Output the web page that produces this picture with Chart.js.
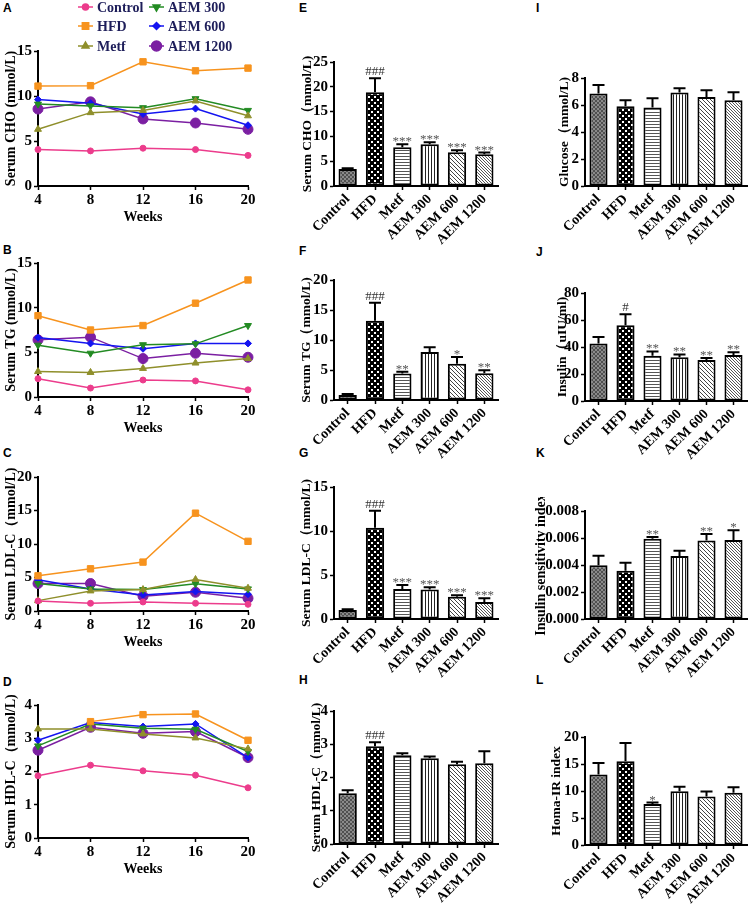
<!DOCTYPE html>
<html>
<head>
<meta charset="utf-8">
<script src="https://cdn.jsdelivr.net/npm/chart.js@4.4.1/dist/chart.umd.min.js"></script>
<style>
  body { margin: 0; background: #fff; width: 750px; height: 906px; position: relative; overflow: hidden; }
  canvas { position: absolute; }
  .lbl { position: absolute; font: bold 12px "Liberation Sans", Arial, sans-serif; line-height: 12px; color: #000; }
</style>
</head>
<body>
<div class="lbl" style="left:3px;top:2px">A</div>
<div class="lbl" style="left:3px;top:244px">B</div>
<div class="lbl" style="left:3px;top:447px">C</div>
<div class="lbl" style="left:3px;top:676px">D</div>
<div class="lbl" style="left:299px;top:2px">E</div>
<div class="lbl" style="left:299px;top:245px">F</div>
<div class="lbl" style="left:299px;top:447px">G</div>
<div class="lbl" style="left:299px;top:674px">H</div>
<div class="lbl" style="left:536px;top:2px">I</div>
<div class="lbl" style="left:536px;top:246px">J</div>
<div class="lbl" style="left:536px;top:447px">K</div>
<div class="lbl" style="left:536px;top:674px">L</div>
<script>
// ---- data ----
const groups = ['Control', 'HFD', 'Metf', 'AEM 300', 'AEM 600', 'AEM 1200'];
const weeks = [4, 8, 12, 16, 20];

// weekly time courses, one row per group (same order as groups)
const choWeekly = [
  [4.05, 3.9, 4.2, 4.05, 3.4],
  [11.1, 11.15, 13.8, 12.8, 13.1],
  [6.3, 8.15, 8.4, 9.45, 7.8],
  [9.1, 8.9, 8.7, 9.7, 8.4],
  [9.6, 9.2, 8.0, 8.6, 6.75],
  [8.55, 9.35, 7.45, 7.0, 6.3]
];
const tgWeekly = [
  [2.05, 1.0, 1.9, 1.8, 0.8],
  [9.1, 7.5, 8.0, 10.5, 13.1],
  [2.85, 2.75, 3.2, 3.8, 4.3],
  [5.8, 4.9, 5.85, 5.95, 8.0],
  [6.65, 6.0, 5.4, 6.0, 6.0],
  [6.4, 6.7, 4.3, 4.9, 4.45]
];
const ldlWeekly = [
  [1.5, 1.15, 1.35, 1.15, 1.0],
  [5.25, 6.3, 7.3, 14.6, 10.4],
  [1.55, 3.0, 3.2, 4.7, 3.4],
  [4.1, 3.3, 3.2, 4.05, 3.3],
  [4.65, 3.3, 2.4, 2.9, 2.5],
  [4.1, 4.1, 2.2, 2.8, 1.9]
];
const hdlWeekly = [
  [1.87, 2.19, 2.02, 1.89, 1.51],
  [null, 3.5, 3.71, 3.73, 2.94],
  [3.28, 3.28, 3.13, 3.01, 2.68],
  [2.77, 3.43, 3.3, 3.27, 2.6],
  [2.94, 3.47, 3.35, 3.43, 2.42],
  [2.64, 3.33, 3.15, 3.2, 2.42]
];

// week-20 means, SEM and significance marks
const choMean = [3.45, 18.9, 7.8, 8.4, 6.8, 6.4];
const choSem = [0.15, 2.8, 0.6, 0.4, 0.4, 0.35];
const choSig = ['', '###', '***', '***', '***', '***'];

const tgMean = [0.83, 13.2, 4.4, 8.0, 6.05, 4.45];
const tgSem = [0.17, 3.0, 0.3, 0.8, 1.1, 0.5];
const tgSig = ['', '###', '**', '', '*', '**'];

const ldlMean = [1.02, 10.37, 3.4, 3.35, 2.52, 1.92];
const ldlSem = [0.08, 1.93, 0.45, 0.27, 0.18, 0.45];
const ldlSig = ['', '###', '***', '***', '***', '***'];

const hdlMean = [1.53, 2.94, 2.67, 2.58, 2.4, 2.43];
const hdlSem = [0.09, 0.12, 0.06, 0.05, 0.07, 0.36];
const hdlSig = ['', '###', '', '', '', ''];

const gluMean = [6.85, 5.91, 5.81, 6.92, 6.6, 6.35];
const gluSem = [0.64, 0.44, 0.69, 0.32, 0.49, 0.6];
const gluSig = ['', '', '', '', '', ''];

const insMean = [42.6, 56.1, 33.5, 32.5, 30.3, 34.0];
const insSem = [4.9, 8.1, 3.2, 2.0, 1.5, 2.2];
const insSig = ['', '#', '**', '**', '**', '**'];

const isiMean = [0.00399, 0.00357, 0.00594, 0.00466, 0.00581, 0.00586];
const isiSem = [0.00069, 0.00059, 0.00014, 0.00039, 0.00049, 0.00072];
const isiSig = ['', '', '**', '', '**', '*'];

const homaMean = [13.07, 15.5, 7.6, 9.97, 8.98, 9.66];
const homaSem = [2.13, 3.4, 0.25, 0.83, 0.92, 1.04];
const homaSig = ['', '', '*', '', '', ''];

// ---- styles ----
const serif = '"Liberation Serif", "Times New Roman", serif';
const lineStyles = [
  { color: '#ec3c8c', pointStyle: 'circle', r: 3 },
  { color: '#f7931e', pointStyle: 'rect', r: 4.5 },
  { color: '#8f8f2b', pointStyle: 'triangle', r: 4 },
  { color: '#238b23', pointStyle: 'triangle', r: 4, rot: 180 },
  { color: '#1414f0', pointStyle: 'rectRot', r: 3.5 },
  { color: '#7b1fa2', pointStyle: 'circle', r: 5 }
];

function makeCanvas(left, top, w, h) {
  const c = document.createElement('canvas');
  c.width = w; c.height = h;
  c.style.left = left + 'px'; c.style.top = top + 'px';
  c.style.width = w + 'px'; c.style.height = h + 'px';
  document.body.appendChild(c);
  return c;
}

function makePattern(w, h, draw) {
  const c = document.createElement('canvas');
  c.width = w; c.height = h;
  const g = c.getContext('2d');
  draw(g);
  return g.createPattern(c, 'repeat');
}

// bar fills, one per group
const barFills = [
  makePattern(4, 4, g => { g.fillStyle = '#8a8a8a'; g.fillRect(0, 0, 4, 4); g.fillStyle = '#505050'; g.fillRect(0, 0, 2, 2); g.fillRect(2, 2, 2, 2); }),
  makePattern(6, 6, g => { g.fillStyle = '#000'; g.fillRect(0, 0, 6, 6); g.fillStyle = '#fff'; g.fillRect(0, 0, 2, 2); g.fillRect(3, 3, 2, 2); }),
  makePattern(3, 3, g => { g.fillStyle = '#fff'; g.fillRect(0, 0, 3, 3); g.fillStyle = '#555'; g.fillRect(0, 0, 3, 1); }),
  makePattern(3, 3, g => { g.fillStyle = '#fff'; g.fillRect(0, 0, 3, 3); g.fillStyle = '#222'; g.fillRect(0, 0, 1, 3); }),
  makePattern(4, 4, g => { g.fillStyle = '#fff'; g.fillRect(0, 0, 4, 4); g.fillStyle = '#444'; for (let i = 0; i < 4; i++) g.fillRect(i, i, 1, 1); }),
  makePattern(3, 3, g => { g.fillStyle = '#fff'; g.fillRect(0, 0, 3, 3); g.fillStyle = '#555'; for (let i = 0; i < 3; i++) g.fillRect(i, i, 1, 1); })
];

function yAxis(title, max, step, yW, titlePad, tickSize, titleSize, fmt) {
  return {
    min: 0, max: max,
    border: { display: true, color: '#000', width: 2 },
    grid: { drawOnChartArea: false, tickLength: 4, tickColor: '#000', tickWidth: 1.5 },
    ticks: { stepSize: step, color: '#000', padding: 2, font: { family: serif, weight: 'bold', size: tickSize }, callback: fmt || (v => v) },
    title: { display: true, text: title, color: '#000', font: { family: serif, weight: 'bold', size: titleSize }, padding: { top: titlePad, bottom: 0 } },
    afterFit: s => { s.width = yW; }
  };
}

// legend drawn into panel A's canvas
const legendPlugin = {
  id: 'legendA',
  afterDraw(chart) {
    const ctx = chart.ctx;
    chart.data.datasets.forEach((ds, i) => {
      const lx = i < 3 ? 78 : 149;
      const ty = [7, 26, 46][i % 3];
      ctx.save();
      ctx.strokeStyle = ds.borderColor; ctx.fillStyle = ds.borderColor; ctx.lineWidth = 1.5;
      ctx.beginPath(); ctx.moveTo(lx, ty); ctx.lineTo(lx + 15, ty); ctx.stroke();
      Chart.helpers.drawPoint(ctx, { pointStyle: ds.pointStyle, radius: ds.pointRadius, rotation: ds.pointRotation || 0, borderWidth: 1 }, lx + 7.5, ty);
      ctx.fillStyle = '#1e1e5a';
      ctx.font = 'bold 14px ' + serif;
      ctx.textBaseline = 'middle';
      ctx.fillText(ds.label, lx + 19, ty + 1);
      ctx.restore();
    });
  }
};

function lineChart(yTop, yBot, padTop, title, rows, yMax, yStep, extra) {
  const x0 = 38, x1 = 248, yW = 38, padRight = 12, xH = 42;
  const c = makeCanvas(0, yTop - padTop, x1 - x0 + yW + padRight, yBot - yTop + padTop + xH);
  const datasets = rows.map((vals, g) => ({
    label: groups[g],
    data: weeks.map((w, k) => ({ x: w, y: vals[k] })),
    borderColor: lineStyles[g].color,
    backgroundColor: lineStyles[g].color,
    borderWidth: 1.5,
    pointStyle: lineStyles[g].pointStyle,
    pointRadius: lineStyles[g].r,
    pointRotation: lineStyles[g].rot || 0,
    pointBorderWidth: 1,
    clip: false
  }));
  new Chart(c, {
    type: 'line',
    data: { datasets },
    options: {
      responsive: false, animation: false,
      layout: { padding: { top: padTop, right: padRight, left: 0, bottom: 0 } },
      plugins: { legend: { display: false }, tooltip: { enabled: false } },
      scales: {
        x: {
          type: 'linear', min: 4, max: 20,
          border: { display: true, color: '#000', width: 2 },
          grid: { drawOnChartArea: false, tickLength: 4, tickColor: '#000', tickWidth: 1.5 },
          ticks: { stepSize: 4, color: '#000', padding: 1, maxRotation: 0, font: { family: serif, weight: 'bold', size: 15 } },
          title: { display: true, text: 'Weeks', color: '#000', font: { family: serif, weight: 'bold', size: 14 }, padding: { top: 0, bottom: 2 } },
          afterFit: s => { s.height = xH; }
        },
        y: yAxis(title, yMax, yStep, yW, 3, 15, 14)
      }
    },
    plugins: extra ? [extra] : []
  });
}

const errPlugin = {
  id: 'errMarks',
  afterDatasetsDraw(chart) {
    const ctx = chart.ctx, y = chart.scales.y;
    const ds = chart.data.datasets[0];
    chart.getDatasetMeta(0).data.forEach((bar, i) => {
      const top = y.getPixelForValue(ds.data[i] + ds.sems[i]);
      ctx.save();
      ctx.strokeStyle = '#000'; ctx.lineWidth = 2;
      ctx.beginPath();
      ctx.moveTo(bar.x, bar.y); ctx.lineTo(bar.x, top);
      ctx.moveTo(bar.x - 6, top); ctx.lineTo(bar.x + 6, top);
      ctx.stroke();
      const m = ds.marks[i];
      if (m) {
        const hash = m[0] === '#';
        ctx.fillStyle = hash ? '#333' : '#555';
        ctx.font = '13px ' + serif;
        ctx.textAlign = 'center';
        ctx.textBaseline = 'alphabetic';
        ctx.fillText(m, bar.x, hash ? top - 3 : top + 1);
      }
      ctx.restore();
    });
  }
};

function barChart(x0, x1, yTop, yBot, yW, titlePad, title, titleSize, means, sems, marks, yMax, yStep, fmt) {
  const padTop = 14, padRight = 4, xH = 64;
  const c = makeCanvas(x0 - yW, yTop - padTop, x1 - x0 + yW + padRight, yBot - yTop + padTop + xH);
  new Chart(c, {
    type: 'bar',
    data: {
      labels: groups,
      datasets: [{
        data: means, sems: sems, marks: marks,
        backgroundColor: barFills, borderColor: '#000', borderWidth: 2, borderSkipped: false,
        barPercentage: 0.67, categoryPercentage: 1
      }]
    },
    options: {
      responsive: false, animation: false,
      layout: { padding: { top: padTop, right: padRight, left: 0, bottom: 0 } },
      plugins: { legend: { display: false }, tooltip: { enabled: false } },
      scales: {
        x: {
          border: { display: true, color: '#000', width: 2 },
          grid: { drawOnChartArea: false, offset: false, tickLength: 4, tickColor: '#000', tickWidth: 1.5 },
          ticks: { autoSkip: false, minRotation: 45, maxRotation: 45, color: '#000', padding: 1, font: { family: serif, weight: 'bold', size: 14 } },
          afterFit: s => { s.height = xH; }
        },
        y: yAxis(title, yMax, yStep, yW, titlePad, 15, titleSize, fmt)
      }
    },
    plugins: [errPlugin]
  });
}

// ---- column 1: weekly lines ----
lineChart(51, 186, 51, 'Serum CHO (mmol/L)', choWeekly, 15, 5, legendPlugin);
lineChart(263, 397, 24, 'Serum TG (mmol/L)', tgWeekly, 15, 5);
lineChart(477, 611, 24, 'Serum LDL-C（mmol/L)', ldlWeekly, 20, 5);
lineChart(705, 838, 24, 'Serum HDL-C（mmol/L)', hdlWeekly, 4, 1);

// ---- column 2: lipid bars ----
barChart(334, 498, 62, 186, 50, 15, 'Serum CHO（mmol/L)', 13.5, choMean, choSem, choSig, 25, 5);
barChart(334, 498, 280, 400, 50, 14, 'Serum TG（mmol/L)', 13.5, tgMean, tgSem, tgSig, 20, 5);
barChart(334, 498, 487, 619, 50, 14, 'Serum LDL-C（mmol/L)', 13.5, ldlMean, ldlSem, ldlSig, 15, 5);
barChart(334, 498, 711, 844, 50, 24, 'Serum HDL-C（mmol/L)', 13.5, hdlMean, hdlSem, hdlSig, 4, 1);

// ---- column 3: glucose / insulin bars ----
barChart(585, 747, 78, 186, 62, 33, 'Glucose（mmol/L)', 13.5, gluMean, gluSem, gluSig, 8, 2);
barChart(585, 747, 293, 401, 62, 31, 'Insulin（uIU/ml)', 13.5, insMean, insSem, insSig, 80, 20);
barChart(585, 747, 511, 619, 62, 10, 'Insulin sensitivity index', 14, isiMean, isiSem, isiSig, 0.008, 0.002, v => v.toFixed(3));
barChart(585, 747, 737, 845, 62, 25, 'Homa-IR index', 13.5, homaMean, homaSem, homaSig, 20, 5);
</script>
</body>
</html>
